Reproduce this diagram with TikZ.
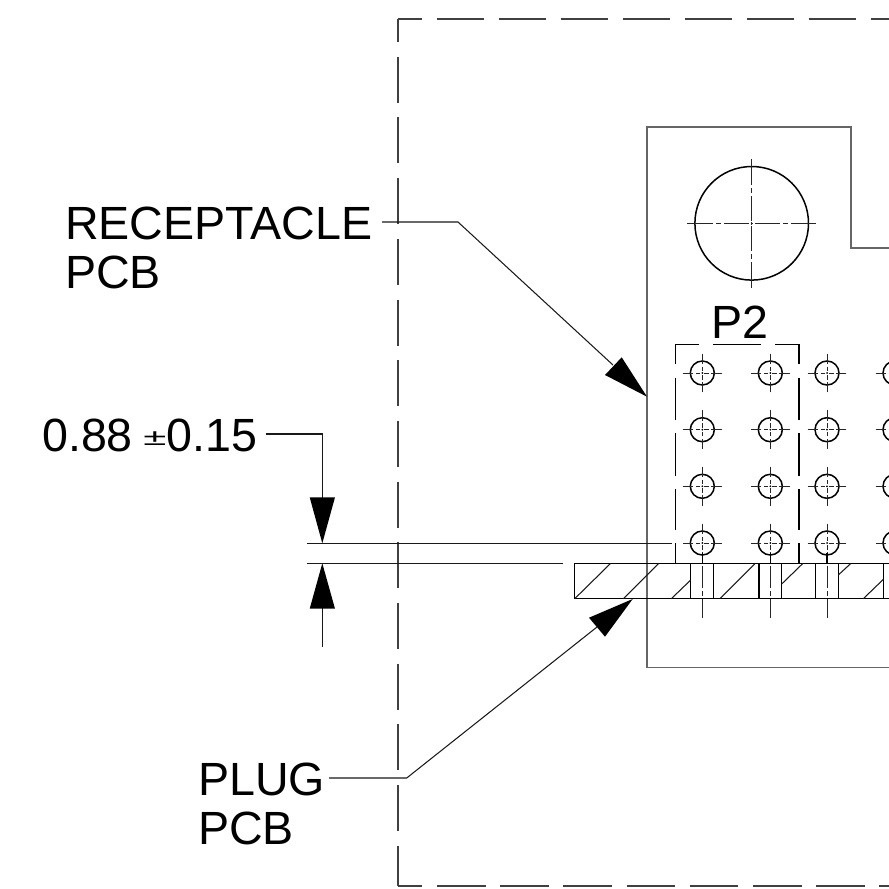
\documentclass[tikz,border=0pt]{standalone}
\usepackage{fontspec}
\setmainfont{Liberation Sans}
\usetikzlibrary{arrows.meta}
\definecolor{ol}{gray}{0.4}
\tikzset{
  thinl/.style={line width=1.05pt,black!90},
  outl/.style={line width=1.7pt,ol},
  secl/.style={line width=1.5pt,black},
  phantoml/.style={line width=1.6pt,black!75},
  cl/.style={line width=0.95pt,black!85},
  lbl/.style={inner sep=0pt,anchor=base west,font=\fontsize{46.6}{50}\selectfont},
  headf/.style={fill=black,draw=none}
}
\newcommand{\holec}[2]{%
  \draw[secl] (#1,#2) circle (12);
  \foreach \ss in {-1,1}{
    \draw[cl] (#1+\ss*19.3,#2)--(#1+\ss*9,#2);
    \draw[cl] (#1+\ss*6.5,#2)--(#1+\ss*2,#2);
    \draw[cl] (#1,#2+\ss*19.3)--(#1,#2+\ss*9);
    \draw[cl] (#1,#2+\ss*6.5)--(#1,#2+\ss*2);
  }
  \fill (#1,#2) circle (1);
}
\begin{document}
\begin{tikzpicture}[x=1pt,y=-1pt]
\useasboundingbox (0,0) rectangle (889,889);
% outer phantom
\draw[phantoml,dash pattern=on 47.5 off 14.5,dash phase=23.5] (398,19)--(889,19);
\draw[phantoml,dash pattern=on 46 off 14.7,dash phase=23] (398,19)--(398,886);
\draw[phantoml,dash pattern=on 48.6 off 14.6,dash phase=24.3] (398,886)--(889,886);
% receptacle outline
\draw[outl] (889,248)--(851,248)--(851,127)--(647,127)--(647,667.5)--(889,667.5);
% big hole
\draw[secl] (751.7,223.3) circle (56.8);
\draw[cl] (687,223.3)--(713,223.3) (716,223.3)--(721,223.3) (724,223.3)--(749,223.3) (750.5,223.3)--(753,223.3) (755,223.3)--(780,223.3) (783,223.3)--(788,223.3) (791,223.3)--(816,223.3);
\draw[cl] (751.7,159)--(751.7,185) (751.7,188)--(751.7,193) (751.7,196)--(751.7,221) (751.7,222)--(751.7,225) (751.7,226)--(751.7,251) (751.7,254)--(751.7,259) (751.7,262)--(751.7,288);
% P2 box
\draw[phantoml,black] (675.3,364.3)--(675.3,344.3)--(698.7,344.3);
\draw[phantoml,black] (713.3,344.3)--(761,344.3);
\draw[phantoml,black] (775.3,344.3)--(798.7,344.3)--(798.7,364.3);
\foreach \xx in {675.3,798.7}{
  \draw[phantoml,black] (\xx,378.3)--(\xx,420);
  \draw[phantoml,black] (\xx,433.3)--(\xx,475.7);
  \draw[phantoml,black] (\xx,489.3)--(\xx,530);
  \draw[phantoml,black] (\xx,543.3)--(\xx,563.3);
}
% small holes
\foreach \yy in {373,429.7,486.3,543}{
  \foreach \xx in {702.3,770.3,827,895}{
    \holec{\xx}{\yy}
  }
}
% plug pcb
\draw[secl] (889,563.3)--(574.7,563.3)--(574.7,598.7)--(889,598.7);
\foreach \xx in {690.7,713.7,759,781.7,815.7,838.3,883.7}{
  \draw[secl] (\xx,563.3)--(\xx,598.7);
}
\foreach \xa/\ya/\xb/\yb in {574.7/598.7/610.7/563.3, 623.3/598.7/658.7/563.3, 671.3/598.7/690.7/580, 720/598.7/755.3/563.3, 781.7/584/803/563.3, 838.3/575/851/563.3, 863.3/598.7/883.7/579}{
  \draw[thinl] (\xa,\ya)--(\xb,\yb);
}
% hole axes through the plug
\foreach \xx in {702.3,770.3,827}{
  \draw[secl] (\xx,553)--(\xx,563.3);
  \draw[cl] (\xx,566)--(\xx,588) (\xx,591)--(\xx,596) (\xx,599)--(\xx,618);
}
% dimension
\draw[thinl] (307.3,543.3)--(671.7,543.3);
\draw[thinl] (307.3,563.3)--(563.3,563.3);
\node[lbl] (dim) at (42,451) {0.88\hspace{10.5pt}\raisebox{6pt}{\scalebox{1}[0.55]{\fontsize{42}{42}\selectfont ±}}\hspace{0.5pt}0.15};
\coordinate (dimbend) at (322.3,434);
\coordinate (dimtip) at (322.3,543.3);
\coordinate (lowtip) at (322.3,563.3);
\coordinate (lowend) at (322.3,646.7);
\draw[thinl] (265.5,434)--(dimbend)--(322.3,500);
\fill[headf] (dimtip)--(309.7,497.3)--(335,497.3)--cycle;
\draw[thinl] (lowend)--(322.3,605);
\fill[headf] (lowtip)--(309.7,608.7)--(335,608.7)--cycle;
% receptacle leader
\node[lbl] (recep) at (65,239) {RECEPTACLE};
\node[lbl] (recep2) at (65,288) {PCB};
\coordinate (rbend) at (458,222);
\coordinate (rtip) at (647,396.7);
\draw[thinl] (382,222)--(rbend)--(613,365);
\fill[headf] (rtip)--(621.7,357.3)--(605,375)--cycle;
% plug leader
\node[lbl] (plug) at (198,795) {PLUG};
\node[lbl] (plug2) at (198,844) {PCB};
\coordinate (pbend) at (406.7,778);
\coordinate (ptip) at (632.7,599);
\draw[thinl] (329,778)--(pbend)--(597,627);
\fill[headf] (ptip)--(589,617.7)--(605,636.7)--cycle;
% P2
\node[lbl] (ptwo) at (711,338) {P2};
\end{tikzpicture}
\end{document}
